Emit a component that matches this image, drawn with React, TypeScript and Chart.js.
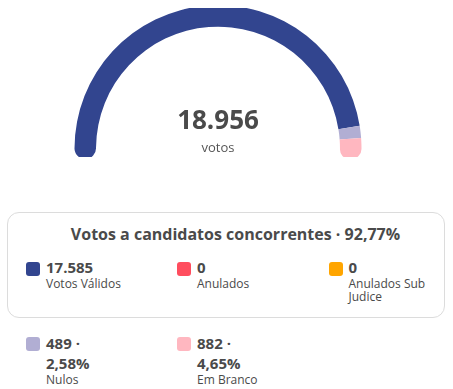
import React, { useEffect, useRef } from "react";
import { Chart, registerables } from "chart.js";

Chart.register(...registerables);

const categories = ["Votos Válidos", "Anulados", "Anulados Sub Judice", "Nulos", "Em Branco"];
const votes = [17585, 0, 0, 489, 882];
const colors = ["#32458F", "#FF4D5E", "#FFA500", "#B1AED3", "#FFB7C0"];
const totalLabel = "18.956";
const totalUnit = "votos";
const groupTitle = "Votos a candidatos concorrentes · 92,77%";
const valueLabels = ["17.585", "0", "0", "489 · 2,58%", "882 · 4,65%"];

const FONT = "'Open Sans', 'Noto Sans', sans-serif";
const TEXT = "#4a4a4a";

function Item({ idx, x, y }: { idx: number; x: number; y: number }) {
  return (
    <div style={{ position: "absolute", left: x, top: y, width: 120 }}>
      <div
        style={{
          position: "absolute",
          left: 0,
          top: 4.8,
          width: 14,
          height: 14,
          borderRadius: 3,
          background: colors[idx],
        }}
      />
      <div style={{ position: "absolute", left: 20, top: 0, width: 96 }}>
        <div style={{ fontSize: 15, lineHeight: "20px", fontWeight: 700, color: TEXT, width: 80 }}>
          {valueLabels[idx]}
        </div>
        <div style={{ fontSize: 12, lineHeight: "13px", color: TEXT, width: 94 }}>{categories[idx]}</div>
      </div>
    </div>
  );
}

export default function App() {
  const ref = useRef<HTMLCanvasElement>(null);
  useEffect(() => {
    if (!ref.current) return;
    const last = votes.length - 1;
    const chart = new Chart(ref.current, {
      type: "doughnut",
      data: {
        labels: categories,
        datasets: [
          {
            data: votes,
            backgroundColor: colors,
            borderWidth: 0,
            borderRadius: (ctx: any) => {
              const i = ctx.dataIndex;
              if (i === 0) return { outerStart: 11, innerStart: 11, outerEnd: 0, innerEnd: 0 };
              if (i === last) return { outerStart: 0, innerStart: 0, outerEnd: 11, innerEnd: 11 };
              return 0;
            },
          },
        ],
      },
      options: {
        animation: false,
        responsive: false,
        maintainAspectRatio: false,
        rotation: -94.5,
        circumference: 189,
        radius: 143.5,
        cutout: "85%",
        layout: { padding: 0 },
        plugins: { legend: { display: false }, tooltip: { enabled: false } },
      },
    });
    return () => chart.destroy();
  }, []);

  return (
    <div style={{ position: "fixed", left: 0, top: 0, width: 453, height: 389, fontFamily: FONT, background: "#fff" }}>
      <canvas ref={ref} width={420} height={149} style={{ position: "absolute", left: 8, top: 8, width: 420, height: 149 }} />
      <div
        style={{
          position: "absolute",
          left: 118,
          width: 200,
          top: 104.4,
          textAlign: "center",
          fontSize: 26,
          lineHeight: "30px",
          fontWeight: 700,
          color: TEXT,
        }}
      >
        {totalLabel}
      </div>
      <div
        style={{
          position: "absolute",
          left: 118,
          width: 200,
          top: 139,
          textAlign: "center",
          fontSize: 13,
          lineHeight: "16px",
          color: "#555",
        }}
      >
        {totalUnit}
      </div>
      <div
        style={{
          position: "absolute",
          left: 7,
          top: 212,
          width: 438,
          height: 106,
          boxSizing: "border-box",
          border: "1px solid #dcdcdc",
          borderRadius: 12,
        }}
      />
      <div
        style={{
          position: "absolute",
          left: 26,
          width: 419,
          top: 223.8,
          textAlign: "center",
          fontSize: 16,
          lineHeight: "20px",
          fontWeight: 700,
          color: TEXT,
        }}
      >
        {groupTitle}
      </div>
      <Item idx={0} x={26} y={257.2} />
      <Item idx={1} x={177} y={257.2} />
      <Item idx={2} x={328.5} y={257.2} />
      <Item idx={3} x={26} y={332.5} />
      <Item idx={4} x={177} y={332.5} />
    </div>
  );
}
